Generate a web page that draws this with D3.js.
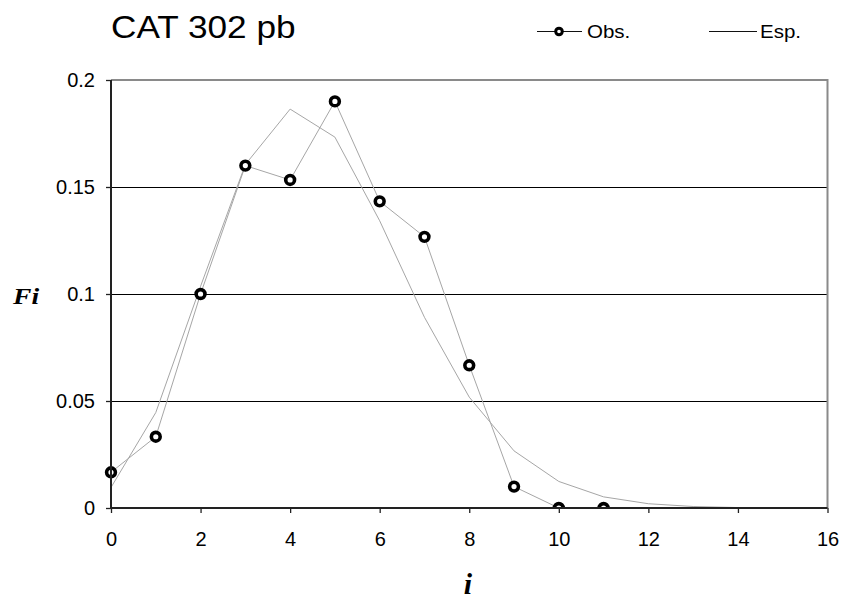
<!DOCTYPE html>
<html>
<head>
<meta charset="utf-8">
<script src="https://cdn.jsdelivr.net/npm/d3@7"></script>
<style>
  html, body { margin: 0; padding: 0; background: #fff; }
  svg { display: block; }
</style>
</head>
<body>
<svg id="chart" width="843" height="603"></svg>
<script>
// Class index i and relative frequencies Fi
const obsI  = [0, 1, 2, 3, 4, 5, 6, 7, 8, 9, 10, 11];
const obsFi = [0.0167, 0.0333, 0.1, 0.16, 0.1533, 0.19, 0.1433, 0.1267, 0.0667, 0.01, 0, 0];

const espI  = [0, 1, 2, 3, 4, 5, 6, 7, 8, 9, 10, 11, 12, 13, 14, 15, 16];
const espFi = [0.0096, 0.0446, 0.1036, 0.1605, 0.1864, 0.1733, 0.1342, 0.0891, 0.0518,
               0.0267, 0.0124, 0.0052, 0.0020, 0.0007, 0.0002, 0.0001, 0.0000];

const xTicks = [0, 2, 4, 6, 8, 10, 12, 14, 16];
const yTicks = [0, 0.05, 0.1, 0.15, 0.2];

const titleText = "CAT 302 pb";
const seriesNames = ["Obs.", "Esp."];
const yTitle = "Fi";
const xTitle = "i";

// Layout
const plotLeft = 111, plotRight = 827.5, plotTop = 80, plotBottom = 508;
const sans = "'Liberation Sans', Arial, sans-serif";
const serif = "'Liberation Serif', 'Times New Roman', serif";

const svg = d3.select("#chart");

const x = d3.scaleLinear().domain([0, 16]).range([plotLeft, plotRight]);
const y = d3.scaleLinear().domain([0, 0.2]).range([plotBottom, plotTop]);

// Horizontal gridlines
svg.append("g")
  .selectAll("line")
  .data(yTicks.filter(v => v > 0 && v < 0.2))
  .join("line")
  .attr("x1", plotLeft).attr("x2", plotRight)
  .attr("y1", d => Math.round(y(d)) + 0.5).attr("y2", d => Math.round(y(d)) + 0.5)
  .attr("stroke", "#000").attr("stroke-width", 1);

// Plot frame: top and right edges in grey
svg.append("path")
  .attr("d", `M${plotLeft},${plotTop} H${plotRight} V${plotBottom}`)
  .attr("fill", "none")
  .attr("stroke", "#8a8a8a")
  .attr("stroke-width", 2);

// Series lines
const line = d3.line().x(d => x(d[0])).y(d => y(d[1]));

svg.append("path")
  .datum(espI.map((v, k) => [v, espFi[k]]))
  .attr("d", line)
  .attr("fill", "none")
  .attr("stroke", "#a6a6a6")
  .attr("stroke-width", 1);

svg.append("path")
  .datum(obsI.map((v, k) => [v, obsFi[k]]))
  .attr("d", line)
  .attr("fill", "none")
  .attr("stroke", "#a6a6a6")
  .attr("stroke-width", 1);

// Markers, cut off below the horizontal axis
svg.append("clipPath").attr("id", "plotClip")
  .append("rect")
  .attr("x", 0).attr("y", 0)
  .attr("width", 843).attr("height", plotBottom + 1);

svg.append("g")
  .attr("clip-path", "url(#plotClip)")
  .selectAll("circle")
  .data(obsI.map((v, k) => [v, obsFi[k]]))
  .join("circle")
  .attr("cx", d => x(d[0]))
  .attr("cy", d => y(d[1]))
  .attr("r", 4.4)
  .attr("fill", "#fff")
  .attr("stroke", "#000")
  .attr("stroke-width", 3.6);

// Axes
const tickSize = 5;
const yAxis = svg.append("g")
  .attr("transform", `translate(${plotLeft},0)`)
  .call(d3.axisLeft(y).tickValues(yTicks).tickSize(tickSize).tickPadding(11).tickFormat(d => String(d)));

const xAxis = svg.append("g")
  .attr("transform", `translate(0,${plotBottom})`)
  .call(d3.axisBottom(x).tickValues(xTicks).tickSize(tickSize).tickPadding(19).tickFormat(d => String(d)));

[yAxis, xAxis].forEach(g => {
  g.select(".domain").remove();
  g.selectAll(".tick line").attr("stroke", "#222").attr("stroke-width", 1.3);
  g.selectAll("text")
    .style("font-family", sans)
    .style("font-size", "20px")
    .attr("fill", "#000");
});

// Axis lines (left and bottom), dark
svg.append("path")
  .attr("d", `M${plotLeft},${plotTop} V${plotBottom} H${plotRight}`)
  .attr("fill", "none")
  .attr("stroke", "#222")
  .attr("stroke-width", 2);

// Title
svg.append("text")
  .attr("transform", "translate(111,38) scale(1.1,1)")
  .style("font-family", sans)
  .style("font-size", "32px")
  .text(titleText);

// Legend
const legend = svg.append("g");
legend.append("line")
  .attr("x1", 537).attr("x2", 582).attr("y1", 31.5).attr("y2", 31.5)
  .attr("stroke", "#111").attr("stroke-width", 1);
legend.append("circle")
  .attr("cx", 559).attr("cy", 31.5).attr("r", 3.3)
  .attr("fill", "#fff").attr("stroke", "#000").attr("stroke-width", 3);
legend.append("text")
  .attr("transform", "translate(587,38) scale(1.08,1)")
  .style("font-family", sans)
  .style("font-size", "19px")
  .text(seriesNames[0]);

legend.append("line")
  .attr("x1", 709).attr("x2", 757).attr("y1", 31.5).attr("y2", 31.5)
  .attr("stroke", "#111").attr("stroke-width", 1);
legend.append("text")
  .attr("transform", "translate(760,38) scale(1.08,1)")
  .style("font-family", sans)
  .style("font-size", "19px")
  .text(seriesNames[1]);

// Axis titles
svg.append("text")
  .attr("transform", "translate(13,304) scale(1.15,1)")
  .style("font-family", serif)
  .style("font-weight", "bold")
  .style("font-style", "italic")
  .style("font-size", "24px")
  .text(yTitle);

svg.append("text")
  .attr("transform", "translate(468,594)")
  .attr("text-anchor", "middle")
  .style("font-family", serif)
  .style("font-weight", "bold")
  .style("font-style", "italic")
  .style("font-size", "30px")
  .text(xTitle);
</script>
</body>
</html>
